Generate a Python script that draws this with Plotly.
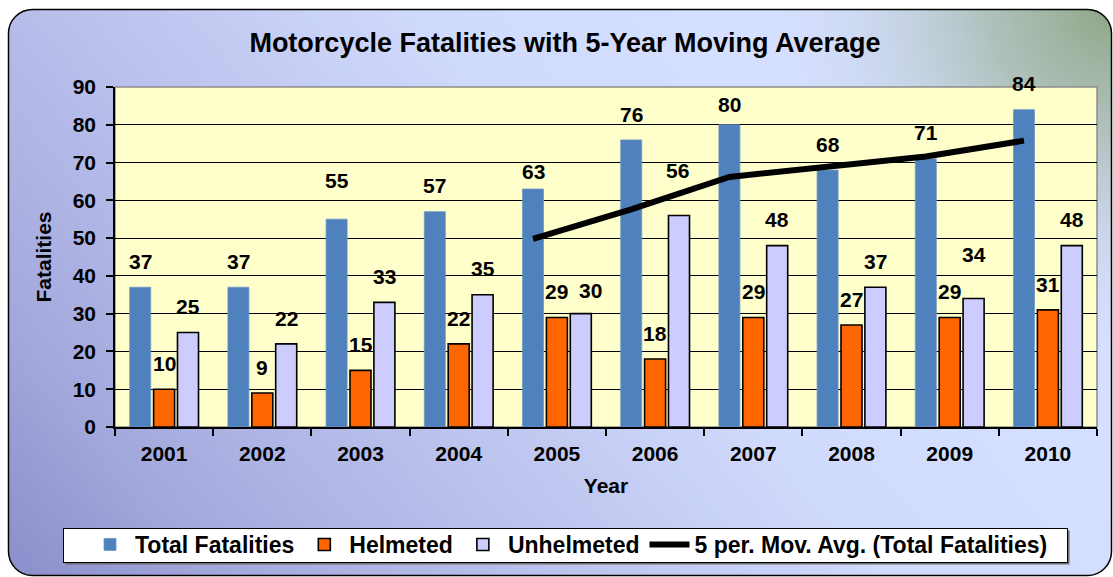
import base64
import plotly.graph_objects as go

# ---- data ----
years = ["2001", "2002", "2003", "2004", "2005", "2006", "2007", "2008", "2009", "2010"]
total = [37, 37, 55, 57, 63, 76, 80, 68, 71, 84]
helmeted = [10, 9, 15, 22, 29, 18, 29, 27, 29, 31]
unhelmeted = [25, 22, 33, 35, 30, 56, 48, 37, 34, 48]
mov_avg_years = ["2005", "2006", "2007", "2008", "2009", "2010"]
mov_avg = [49.8, 57.6, 66.2, 68.8, 71.6, 75.8]
y_ticks = [0, 10, 20, 30, 40, 50, 60, 70, 80, 90]

# ---- layout constants (pixels) ----
W, H = 1113, 577
L, R, T, B = 115, 1097, 87, 427
PW, PH = R - L, B - T

BARGAP = 0.27
BARGROUPGAP = 0.12
SLOT = (1 - BARGAP) / 3

FONT = "Arial, 'Liberation Sans', sans-serif"
C_TOTAL = "#4F81BD"
C_HELM = "#FF6600"
C_UNHELM = "#CCCCFF"

# data-label placement (pixels above bar top; a few labels were moved by hand in the original)
LABEL_GAP = 23.3
GLYPH_CORR = 2.5
label_moves = {
    (0, "2003"): (0, 36.7),
    (0, "2005"): (0, 15.3),
    (0, "2007"): (0, 17.7),
    (2, "2005"): (10, 20.7),
    (2, "2006"): (-2, 42.7),
    (2, "2009"): (0, 41.3),
}

xpos = list(range(len(years)))
ma_x = [years.index(y) - SLOT for y in mov_avg_years]

fig = go.Figure()
fig.add_trace(go.Bar(name="Total Fatalities", x=xpos, y=total,
                     marker=dict(color=C_TOTAL, line=dict(color="#6F97C9", width=0.8))))
fig.add_trace(go.Bar(name="Helmeted", x=xpos, y=helmeted,
                     marker=dict(color=C_HELM, line=dict(color="black", width=1.6))))
fig.add_trace(go.Bar(name="Unhelmeted", x=xpos, y=unhelmeted,
                     marker=dict(color=C_UNHELM, line=dict(color="black", width=1.6))))
fig.add_trace(go.Scatter(name="5 per. Mov. Avg. (Total Fatalities)", x=ma_x, y=mov_avg,
                         mode="lines", line=dict(color="black", width=6),
                         hoverinfo="skip"))

# data labels
annotations = []
for k, series in enumerate([total, helmeted, unhelmeted]):
    for i, v in enumerate(series):
        dx, gap = label_moves.get((k, years[i]), (0, LABEL_GAP))
        annotations.append(dict(x=i + (k - 1) * SLOT, y=v, xref="x", yref="y",
                                text=str(v), showarrow=False,
                                xshift=dx, yshift=gap + GLYPH_CORR,
                                font=dict(family=FONT, size=21, color="black", weight="bold")))

# background (gradient rounded panel + plot area + legend box)
svg = f"""<svg xmlns='http://www.w3.org/2000/svg' width='{W}' height='{H}' viewBox='0 0 {W} {H}'>
<defs>
<linearGradient id='g' gradientUnits='userSpaceOnUse' x1='0' y1='577' x2='700' y2='0'>
<stop offset='0' stop-color='#8A8DCA'/>
<stop offset='0.2' stop-color='#A4A9DD'/>
<stop offset='0.4' stop-color='#B6BCE9'/>
<stop offset='0.75' stop-color='#D0DAFC'/>
<stop offset='1' stop-color='#D5DFFF'/>
</linearGradient>
<radialGradient id='r' gradientUnits='userSpaceOnUse' cx='1113' cy='5' r='360'>
<stop offset='0' stop-color='#8CA684' stop-opacity='1'/>
<stop offset='0.35' stop-color='#A4B7A6' stop-opacity='0.75'/>
<stop offset='1' stop-color='#D5DFFF' stop-opacity='0'/>
</radialGradient>
</defs>
<rect x='8.5' y='9.5' width='1103' height='566' rx='24' ry='24' fill='url(#g)'/>
<rect x='8.5' y='9.5' width='1103' height='566' rx='24' ry='24' fill='url(#r)'/>
<rect x='8.5' y='9.5' width='1103' height='566' rx='24' ry='24' fill='none' stroke='#000' stroke-width='1.5'/>
<rect x='{L}' y='{T}' width='{PW}' height='{PH}' fill='#FFFFCC' stroke='#8C8C8C' stroke-width='1.5'/>
<rect x='65.5' y='530.5' width='1004' height='34' fill='#6E6E6E'/>
<rect x='63.5' y='528.5' width='1004' height='34' fill='#FFFFFF' stroke='#000' stroke-width='1'/>
</svg>"""
src = "data:image/svg+xml;base64," + base64.b64encode(svg.encode()).decode()

fig.update_layout(
    width=W, height=H,
    margin=dict(l=L, r=W - R, t=T, b=H - B, autoexpand=False),
    paper_bgcolor="white",
    plot_bgcolor="rgba(0,0,0,0)",
    barmode="group", bargap=BARGAP, bargroupgap=BARGROUPGAP,
    font=dict(family=FONT, color="black", weight="bold"),
    title=dict(text="Motorcycle Fatalities with 5-Year Moving Average",
               x=565 / W, xanchor="center", y=1 - 43 / H, yanchor="middle",
               font=dict(family=FONT, size=27, color="black", weight="bold")),
    images=[dict(source=src, xref="paper", yref="paper",
                 x=-L / PW, y=1 + T / PH, sizex=W / PW, sizey=H / PH,
                 xanchor="left", yanchor="top", sizing="stretch", layer="below")],
    annotations=annotations,
    showlegend=True,
    legend=dict(orientation="h", x=(569 - L) / PW, xanchor="center",
                y=(B - 523) / PH, yanchor="top",
                bgcolor="rgba(0,0,0,0)", borderwidth=0,
                font=dict(family=FONT, size=23, color="black", weight="bold"),
                itemwidth=40, tracegroupgap=0),
    xaxis=dict(range=[-0.5, len(years) - 0.5], tickmode="array", tickvals=xpos, ticktext=years,
               ticks="", showgrid=False, zeroline=False,
               showline=True, linecolor="black", linewidth=1.5,
               tickfont=dict(family=FONT, size=21, color="black", weight="bold"),
               ticklabelstandoff=7,
               minor=dict(tickmode="array", tickvals=[i - 0.5 for i in range(len(years) + 1)],
                          ticks="outside", ticklen=7, tickcolor="black", tickwidth=1.5, showgrid=False),
               title=dict(text="Year", standoff=14,
                          font=dict(family=FONT, size=21, color="black", weight="bold"))),
    yaxis=dict(range=[0, 90], tickmode="array", tickvals=y_ticks,
               ticks="outside", ticklen=7, tickcolor="black", tickwidth=1.5,
               showgrid=True, gridcolor="black", gridwidth=1, zeroline=False,
               showline=True, linecolor="black", linewidth=1.5,
               tickfont=dict(family=FONT, size=21, color="black", weight="bold"),
               ticklabelstandoff=6,
               title=dict(text="Fatalities", standoff=15,
                          font=dict(family=FONT, size=21, color="black", weight="bold"))),
)

fig.write_html("out.html", config={"displayModeBar": False},
               post_script="document.body.style.margin='0';document.body.style.overflow='hidden';")
